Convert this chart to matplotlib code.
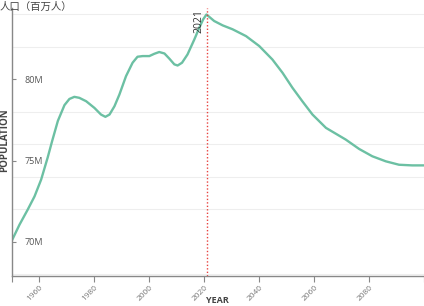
import matplotlib
matplotlib.use("Agg")
import matplotlib.pyplot as plt
from matplotlib.ticker import MultipleLocator, FixedLocator

plt.rcParams['font.family'] = ['Open Sans', 'Noto Sans CJK SC', 'DejaVu Sans']

years = [1950, 1952.7, 1955.7, 1958.2, 1960.6, 1963.0, 1964.6, 1966.7, 1969.1, 1970.9,
         1972.7, 1974.5, 1977.0, 1980.0, 1982.4, 1984.0, 1985.5, 1987.3, 1989.1, 1991.5,
         1993.9, 1995.7, 1997.6, 2000.0, 2001.8, 2003.6, 2005.5, 2007.3, 2009.1, 2010.3,
         2011.9, 2013.9, 2016.4, 2018.2, 2019.6, 2020.8, 2023.6, 2026.7, 2030.3, 2035.2,
         2040.0, 2044.8, 2048.5, 2052.1, 2055.7, 2059.4, 2064.3, 2071.5, 2076.4, 2081.2,
         2086.1, 2090.9, 2095.7, 2100]
population = [70.1, 71.05, 71.98, 72.8, 73.83, 75.2, 76.2, 77.45, 78.42, 78.8,
              78.93, 78.87, 78.66, 78.25, 77.84, 77.70, 77.84, 78.35, 79.07, 80.2,
              81.03, 81.40, 81.44, 81.44, 81.58, 81.69, 81.6, 81.28, 80.93, 80.86,
              81.03, 81.54, 82.47, 83.19, 83.70, 84.0, 83.6, 83.33, 83.09, 82.67,
              82.06, 81.23, 80.41, 79.49, 78.66, 77.84, 77.02, 76.30, 75.72, 75.27,
              74.96, 74.75, 74.71, 74.71]
marker_year = 2021
marker_label = "2021"
y_ticks = [70, 75, 80]
y_tick_labels = ["70M", "75M", "80M"]
x_ticks = [1960, 1980, 2000, 2020, 2040, 2060, 2080]
title = "人口（百万人）"
x_label = "YEAR"
y_label = "POPULATION"

fig = plt.figure(figsize=(4.24, 3.06), dpi=100)
ax = fig.add_axes([12/424, 1-276/306, 1-12/424, (276-8)/306])

ax.plot(years, population, color="#6cc0a3", lw=1.7, solid_capstyle="round",
        solid_joinstyle="round")
ax.axvline(marker_year, color="#e8423f", lw=1.0, linestyle=(0, (1, 1.5)))
ax.text(marker_year - 1.0, 84.3, marker_label, rotation=90, ha="right", va="top",
        fontsize=7.5, color="#333333")

ax.set_xlim(1950, 2100)
ax.set_ylim(67.9, 84.4)

ax.xaxis.set_major_locator(FixedLocator(x_ticks))
ax.set_xticklabels([str(x) for x in x_ticks], rotation=45, ha="right",
                   rotation_mode="anchor", fontsize=6, color="#777777")
ax.xaxis.set_minor_locator(FixedLocator([1950, 2100]))
ax.tick_params(axis="x", which="both", length=4, width=0.8, color="#888888", pad=2)

ax.yaxis.set_major_locator(FixedLocator(y_ticks))
ax.set_yticklabels(y_tick_labels, fontsize=6.5, color="#555555")
ax.tick_params(axis="y", which="major", direction="in", length=3, width=0.8,
               color="#888888", pad=-9)
for lbl in ax.get_yticklabels():
    lbl.set_horizontalalignment("left")
ax.yaxis.set_minor_locator(MultipleLocator(2))
ax.tick_params(axis="y", which="minor", length=0)
ax.grid(axis="y", which="minor", color="#eeeeee", lw=0.8)
ax.set_axisbelow(True)

for s in ["top", "right"]:
    ax.spines[s].set_visible(False)
for s in ["left", "bottom"]:
    ax.spines[s].set_color("#888888")
    ax.spines[s].set_linewidth(1.0)

fig.text(0.0, 1-7/306, title, fontsize=7.5, color="#444444", va="center", ha="left",
         family=['Noto Sans CJK SC', 'DejaVu Sans'])
fig.text(5/424, 1-140/306, y_label, rotation=90, fontsize=7, fontweight="bold",
         color="#444444", ha="center", va="center")
fig.text(217/424, 1/306, x_label, fontsize=6.5, fontweight="bold",
         color="#444444", ha="center", va="bottom")

fig.savefig("out.png", dpi=100)
